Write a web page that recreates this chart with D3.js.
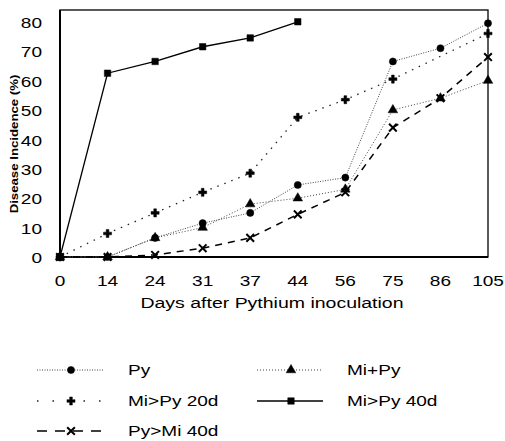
<!DOCTYPE html>
<html>
<head>
<meta charset="utf-8">
<script src="https://cdn.jsdelivr.net/npm/d3@7"></script>
<style>
  body { margin: 0; background: #fff; }
  text { font-family: "Liberation Sans", Arial, sans-serif; fill: #000; }
</style>
</head>
<body>
<script>
var width = 505, height = 441;
var plotLeft = 60, plotRight = 488, plotTop = 10, plotBottom = 257;

var days = ["0", "14", "24", "31", "37", "44", "56", "75", "86", "105"];
var yTicks = [0, 10, 20, 30, 40, 50, 60, 70, 80];

var py        = [0, 0, 6.5, 11.5, 15, 24.5, 27, 66.5, 71, 79.5];
var miPlusPy  = [0, 0, 6.5, 10, 18, 20, 23, 50, 54, 60];
var miPy20    = [0, 8, 15, 22, 28.5, 47.5, 53.5, 60.5, null, 76];
var miPy40    = [0, 62.5, 66.5, 71.5, 74.5, 80, null, null, null, null];
var pyMi40    = [0, 0, 0.7, 3, 6.5, 14.5, 22, 44, 54, 68];

var series = [
  {name: "Py", values: py, dash: "1,1.5", width: 1, color: "#444", symbol: d3.symbolCircle, size: 40, fill: true},
  {name: "Mi+Py", values: miPlusPy, dash: "1,2", width: 1, color: "#444", symbol: d3.symbolTriangle, size: 40, fill: true},
  {name: "Mi>Py 20d", values: miPy20, dash: "1.5,6", width: 1.3, color: "#222", symbol: d3.symbolCross, size: 36, fill: true},
  {name: "Mi>Py 40d", values: miPy40, dash: null, width: 1.3, color: "#000", symbol: d3.symbolSquare, size: 42, fill: true},
  {name: "Py>Mi 40d", values: pyMi40, dash: "7,6", width: 1.5, color: "#000", symbol: d3.symbolTimes, size: 40, fill: false}
];

var svg = d3.select("body").append("svg")
  .attr("width", width).attr("height", height);

var x = d3.scalePoint().domain(days).range([plotLeft, plotRight]);
var y = d3.scaleLinear().domain([0, 84]).range([plotBottom, plotTop]);

// stretched text helper (the scan is wider than Arial)
function stext(g, tx, ty, str, size, anchor, sx, weight) {
  var t = g.append("g").attr("transform", "translate(" + tx + "," + ty + ") scale(" + sx + ",1)")
    .append("text")
    .attr("font-size", size + "px")
    .attr("text-anchor", anchor || "start")
    .attr("dominant-baseline", "central")
    .text(str);
  if (weight) t.attr("font-weight", weight);
  return t;
}

// frame
svg.append("rect").attr("x", plotLeft).attr("y", plotTop)
  .attr("width", plotRight - plotLeft).attr("height", plotBottom - plotTop)
  .attr("fill", "none").attr("stroke", "#000").attr("stroke-width", 1.3);
svg.append("line").attr("x1", plotLeft).attr("x2", plotLeft).attr("y1", plotTop).attr("y2", plotBottom + 1)
  .attr("stroke", "#000").attr("stroke-width", 2);
svg.append("line").attr("x1", plotLeft).attr("x2", plotRight).attr("y1", plotBottom).attr("y2", plotBottom)
  .attr("stroke", "#000").attr("stroke-width", 2);

// y ticks
yTicks.forEach(function(v) {
  stext(svg, 42, y(v) + 1, String(v), 15, "end", 1.27);
});
// x ticks
days.forEach(function(d) {
  stext(svg, x(d), 281, d, 15, "middle", 1.27);
});
stext(svg, 272, 303, "Days after Pythium inoculation", 15, "middle", 1.3);

// y title
svg.append("g").attr("transform", "translate(14,144) rotate(-90) scale(1.15,1)")
  .append("text").attr("font-size", "11.5px").attr("font-weight", "bold")
  .attr("text-anchor", "middle").attr("dominant-baseline", "central")
  .text("Disease Incidence (%)");

var line = d3.line().x(function(d) { return x(d.day); }).y(function(d) { return y(d.v); });

function drawMarker(g, s, cx, cy) {
  g.append("path")
    .attr("d", d3.symbol().type(s.symbol).size(s.size)())
    .attr("transform", "translate(" + cx + "," + cy + ")")
    .attr("fill", s.fill ? "#000" : "none")
    .attr("stroke", "#000")
    .attr("stroke-width", s.fill ? 0.5 : 2);
}

series.forEach(function(s) {
  var pts = [];
  s.values.forEach(function(v, i) { if (v != null) pts.push({day: days[i], v: v}); });
  svg.append("path").datum(pts)
    .attr("d", line)
    .attr("fill", "none")
    .attr("stroke", s.color)
    .attr("stroke-width", s.width)
    .attr("stroke-dasharray", s.dash);
  var g = svg.append("g");
  pts.forEach(function(p) { drawMarker(g, s, x(p.day), y(p.v)); });
});

// legend
var legendPos = [
  {lx: 37, ly: 370, tx: 128},
  {lx: 257, ly: 370, tx: 347},
  {lx: 37, ly: 401, tx: 128},
  {lx: 257, ly: 401, tx: 347},
  {lx: 37, ly: 431, tx: 128}
];
series.forEach(function(s, i) {
  var p = legendPos[i];
  var g = svg.append("g");
  g.append("line").attr("x1", p.lx).attr("x2", p.lx + 66).attr("y1", p.ly).attr("y2", p.ly)
    .attr("stroke", s.color).attr("stroke-width", s.width)
    .attr("stroke-dasharray", s.dash === "7,6" ? "10,8" : (s.dash === "1.5,6" ? "1.5,14" : s.dash));
  drawMarker(g, s, p.lx + 34, p.ly);
  stext(g, p.tx, p.ly, s.name, 15, "start", 1.27);
});
</script>
</body>
</html>
